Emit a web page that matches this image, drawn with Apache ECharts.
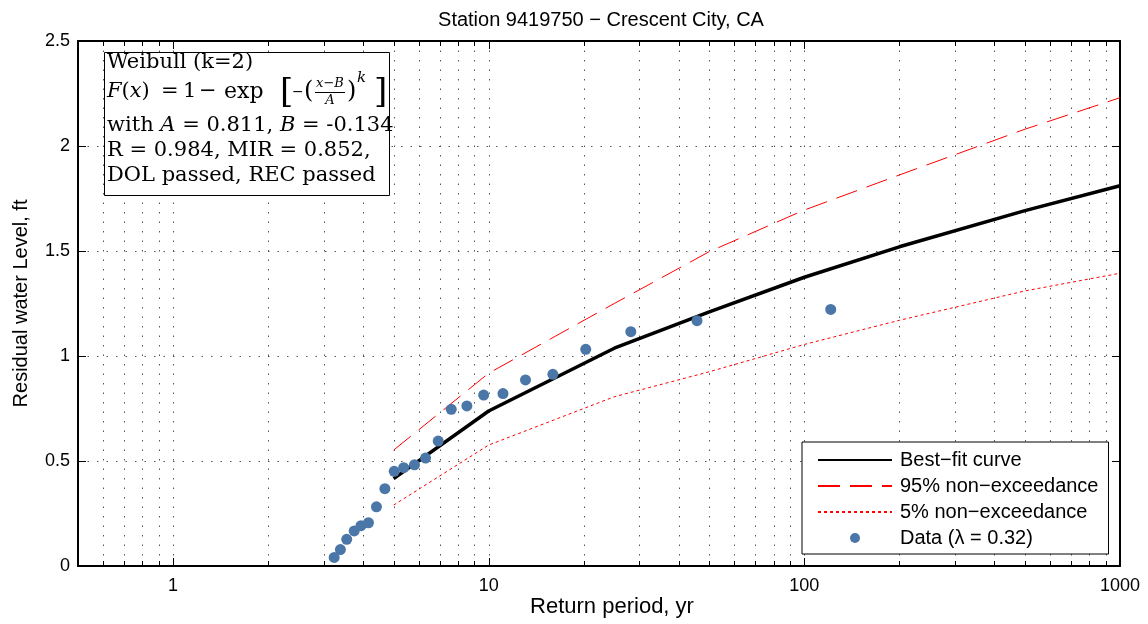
<!DOCTYPE html>
<html>
<head>
<meta charset="utf-8">
<script src="https://cdn.jsdelivr.net/npm/echarts@6/dist/echarts.min.js"></script>
<style>
html,body{margin:0;padding:0;background:#fff;}
#chart{width:1148px;height:624px;}
</style>
</head>
<body>
<div id="chart"></div>
<script>
// ---- data ----
const dataPeriod = [3.24, 3.39, 3.55, 3.75, 3.94, 4.16, 4.41, 4.69, 5.02, 5.38, 5.82, 6.31, 6.92, 7.61, 8.53, 9.64, 11.10, 13.08, 15.97, 20.3, 28.2, 45.7, 121.2];
const dataLevel  = [0.041, 0.078, 0.127, 0.167, 0.192, 0.206, 0.282, 0.368, 0.451, 0.468, 0.482, 0.514, 0.595, 0.746, 0.762, 0.814, 0.821, 0.886, 0.913, 1.032, 1.116, 1.168, 1.222];
const curvePeriod = [5, 10, 25, 50, 100, 200, 500, 1000];
const bestFit   = [0.416, 0.738, 1.037, 1.210, 1.375, 1.520, 1.692, 1.811];
const upper95   = [0.552, 0.918, 1.250, 1.497, 1.695, 1.862, 2.080, 2.230];
const lower5    = [0.290, 0.576, 0.806, 0.925, 1.055, 1.170, 1.310, 1.394];
const xMajorTicks = [1, 10, 100];
const xMinorTicks = [0.6, 0.7, 0.8, 0.9, 2, 3, 4, 5, 6, 7, 8, 9, 20, 30, 40, 50, 60, 70, 80, 90, 200, 300, 400, 500, 600, 700, 800, 900];
const xTickLabels = [1, 10, 100, 1000];
const seriesNames = ['Best\u2212fit curve', '95% non\u2212exceedance', '5% non\u2212exceedance', 'Data (\u03bb = 0.32)'];

const pair = (xs, ys) => xs.map((x, i) => [x, ys[i]]);
const tickData = xMajorTicks.map(v => [v, 1]).concat(xMinorTicks.map(v => [v, 0]));

const SANS = 'Liberation Sans, Arial, Helvetica, sans-serif';
const SERIF = 'DejaVu Serif, serif';

const chart = echarts.init(document.getElementById('chart'), null, {renderer: 'canvas'});

function t(text, x, y, size, opts) {
  opts = opts || {};
  return {
    type: 'text', x: x, y: y, z: 101,
    style: Object.assign({
      text: text, fill: '#000', fontFamily: SERIF, fontSize: size,
      textAlign: 'left', textVerticalAlign: 'middle'
    }, opts)
  };
}
const richI = {i: {fontFamily: SERIF, fontSize: 21, fontStyle: 'italic', fill: '#000'}};

const option = {
  animation: false,
  backgroundColor: '#fff',
  grid: {left: 78, right: 28, top: 41, bottom: 58, containLabel: false},
  xAxis: [{
    type: 'log', logBase: 10, min: 0.5, max: 1000,
    axisLine: {show: true, onZero: false, lineStyle: {color: '#000', width: 2}},
    axisTick: {show: false},
    splitLine: {show: false},
    minorTick: {show: false},
    axisLabel: {
      show: true, margin: 11, fontFamily: SANS, fontSize: 18, color: '#000',
      showMinLabel: true, showMaxLabel: true,
      formatter: function (v) {
        const r = Math.round(v * 1000) / 1000;
        return xTickLabels.indexOf(r) >= 0 ? String(r) : '';
      }
    }
  }, {
    type: 'log', logBase: 10, min: 0.5, max: 1000, position: 'top',
    axisLine: {show: true, onZero: false, lineStyle: {color: '#000', width: 2}},
    axisTick: {show: false}, axisLabel: {show: false}, splitLine: {show: false}
  }],
  yAxis: [{
    type: 'value', min: 0, max: 2.5, interval: 0.5,
    name: 'Residual water Level, ft', nameLocation: 'middle', nameGap: 47,
    nameTextStyle: {fontFamily: SANS, fontSize: 20, color: '#000'},
    axisLine: {show: true, onZero: false, lineStyle: {color: '#000', width: 2}},
    axisTick: {show: true, inside: true, length: 8, lineStyle: {color: '#000', width: 1}},
    axisLabel: {margin: 8, fontFamily: SANS, fontSize: 18, color: '#000'},
    splitLine: {show: true, lineStyle: {color: '#555', width: 1, type: [1.5, 8]}}
  }, {
    type: 'value', min: 0, max: 2.5, interval: 0.5, position: 'right',
    axisLine: {show: true, onZero: false, lineStyle: {color: '#000', width: 2}},
    axisTick: {show: true, inside: true, length: 8, lineStyle: {color: '#000', width: 1}},
    axisLabel: {show: false}, splitLine: {show: false}
  }],
  legend: {
    data: [
      {name: seriesNames[0], itemStyle: {opacity: 0}},
      {name: seriesNames[1], itemStyle: {opacity: 0}},
      {name: seriesNames[2], itemStyle: {opacity: 0}},
      {name: seriesNames[3]}
    ],
    orient: 'vertical',
    left: 802, top: 442,
    padding: [8, 10, 6, 15],
    itemWidth: 74, itemHeight: 10, itemGap: 6,
    backgroundColor: '#fff', borderColor: '#000', borderWidth: 1, borderRadius: 0,
    textStyle: {fontFamily: SANS, fontSize: 20, color: '#000', lineHeight: 20, padding: [0, 0, 0, 3]},
    selectedMode: false
  },
  series: [{
    type: 'custom', name: 'grid', silent: true, z: 1,
    coordinateSystem: 'cartesian2d', xAxisIndex: 0, yAxisIndex: 0,
    data: tickData,
    renderItem: function (params, api) {
      const v = api.value(0);
      const major = api.value(1) === 1;
      const p = api.coord([v, 0]);
      const cs = params.coordSys;
      const x = Math.round(p[0]) + 0.5;
      const top = cs.y, bot = cs.y + cs.height;
      const len = major ? 8 : 5;
      return {
        type: 'group',
        children: [
          {type: 'line', shape: {x1: x, y1: top, x2: x, y2: bot}, style: {stroke: '#555', lineWidth: 1, lineDash: [1.5, 8]}},
          {type: 'line', shape: {x1: x, y1: bot, x2: x, y2: bot - len}, style: {stroke: '#000', lineWidth: 1}},
          {type: 'line', shape: {x1: x, y1: top, x2: x, y2: top + len}, style: {stroke: '#000', lineWidth: 1}}
        ]
      };
    }
  }, {
    type: 'line', name: seriesNames[0], data: pair(curvePeriod, bestFit),
    symbol: 'none', showSymbol: false, z: 4,
    lineStyle: {color: '#000', width: 3.5}, itemStyle: {color: '#000'}
  }, {
    type: 'line', name: seriesNames[1], data: pair(curvePeriod, upper95),
    symbol: 'none', showSymbol: false, z: 3, smooth: false,
    lineStyle: {color: '#ff0000', width: 1, type: [22, 10]}, itemStyle: {color: '#ff0000'}
  }, {
    type: 'line', name: seriesNames[2], data: pair(curvePeriod, lower5),
    symbol: 'none', showSymbol: false, z: 3,
    lineStyle: {color: '#ff0000', width: 1, type: [3, 3]}, itemStyle: {color: '#ff0000'}
  }, {
    type: 'scatter', name: seriesNames[3], data: pair(dataPeriod, dataLevel),
    symbol: 'circle', symbolSize: 11, z: 5,
    itemStyle: {color: '#4a76a8', opacity: 1}
  }],
  graphic: [
    {type: 'text', x: 601, y: 20, z: 101, style: {text: 'Station 9419750 \u2212 Crescent City, CA', fill: '#000', fontFamily: SANS, fontSize: 20, textAlign: 'center', textVerticalAlign: 'middle'}},
    {type: 'text', x: 612, y: 607, z: 101, style: {text: 'Return period, yr', fill: '#000', fontFamily: SANS, fontSize: 22, textAlign: 'center', textVerticalAlign: 'middle'}},
    {type: 'rect', z: 100, shape: {x: 104.5, y: 52.5, width: 285, height: 143}, style: {fill: '#fff', stroke: '#000', lineWidth: 1}},
    t('Weibull (k=2)', 107, 63, 21),
    t('{i|F}({i|x})', 107, 92, 21, {rich: richI}),
    t('=', 161, 92, 21),
    t('1', 183, 92, 21),
    t('\u2212', 199, 92, 21),
    t('exp', 224, 92, 22),
    t('[', 280, 93, 34),
    t('\u2212', 292, 92, 14),
    t('(', 304, 92, 24),
    t('x\u2212B', 330, 84, 13, {textAlign: 'center', fontStyle: 'italic'}),
    {type: 'line', z: 101, shape: {x1: 315, y1: 92.5, x2: 345, y2: 92.5}, style: {stroke: '#000', lineWidth: 1}},
    t('A', 330, 101, 13, {textAlign: 'center', fontStyle: 'italic'}),
    t(')', 347, 92, 24),
    t('k', 357, 78, 15, {fontStyle: 'italic'}),
    t(']', 374, 93, 34),
    t('with {i|A} = 0.811, {i|B} = -0.134', 107, 126, 21, {rich: richI}),
    t('R = 0.984, MIR = 0.852,', 107, 151, 21),
    t('DOL passed, REC passed', 107, 176, 21)
  ]
};
chart.setOption(option);
</script>
</body>
</html>
